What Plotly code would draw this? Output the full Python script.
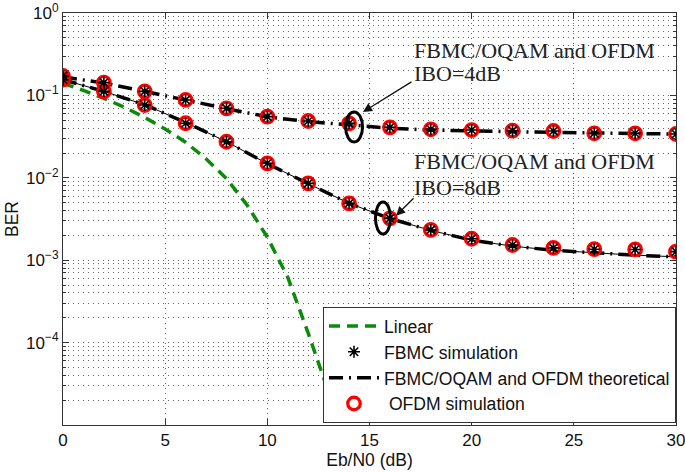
import plotly.graph_objects as go

# ---------------- data ----------------
snr = [0, 2, 4, 6, 8, 10, 12, 14, 16, 18, 20, 22, 24, 26, 28, 30]

linear_x = [0, 1, 2, 3, 4, 5, 6, 7, 8, 9, 10, 11, 12, 13, 14]
linear_ber = [0.14, 0.115, 0.092, 0.072, 0.054, 0.039, 0.027, 0.017, 0.0098,
              0.0047, 0.0019, 0.00062, 0.00013, 0.000025, 0.0000017]

# IBO = 4 dB
sim_ibo4 = [0.172, 0.143, 0.112, 0.088, 0.0697, 0.0552, 0.0489, 0.0458, 0.041,
            0.0388, 0.038, 0.0373, 0.037, 0.0347, 0.0347, 0.034]
theo_ibo4 = [0.168, 0.141, 0.112, 0.087, 0.069, 0.055, 0.048, 0.044, 0.040,
             0.038, 0.037, 0.036, 0.0355, 0.035, 0.0345, 0.034]

# IBO = 8 dB
sim_ibo8 = [0.155, 0.112, 0.0765, 0.0459, 0.0274, 0.0150, 0.00857, 0.0049, 0.00322,
            0.00233, 0.00182, 0.00153, 0.00141, 0.00136, 0.00135, 0.00127]
theo_ibo8 = [0.155, 0.112, 0.077, 0.047, 0.0275, 0.0148, 0.0085, 0.0049, 0.0032,
             0.0023, 0.00175, 0.00148, 0.00132, 0.00122, 0.00115, 0.0011]

y_tickvals = [1, 0.1, 0.01, 0.001, 0.0001]
y_ticktext = ["10<sup>0</sup>", "10<sup>−1</sup>", "10<sup>−2</sup>",
              "10<sup>−3</sup>", "10<sup>−4</sup>"]
x_tickvals = [0, 5, 10, 15, 20, 25, 30]

SANS = "Liberation Sans, Arial, sans-serif"
SERIF = "Liberation Serif, Times New Roman, serif"
GREEN = "#0b8a0b"
THEO_DASH = "14px,6px,2px,6px"
GRID = "#666"
GRID_DASH = "1px,4px"

fig = go.Figure()

# Linear
fig.add_trace(go.Scatter(
    x=linear_x, y=linear_ber, mode="lines", name="Linear",
    line=dict(color=GREEN, width=3.5, dash="11px,7px"), legendrank=1))

# theoretical curves
fig.add_trace(go.Scatter(
    x=snr, y=theo_ibo8, mode="lines", showlegend=False, hoverinfo="skip",
    line=dict(color="black", width=1)))
fig.add_trace(go.Scatter(
    x=snr, y=theo_ibo4, mode="lines", name="FBMC/OQAM and OFDM theoretical",
    line=dict(color="black", width=3.5, dash=THEO_DASH), legendgroup="theo",
    legendrank=3))
fig.add_trace(go.Scatter(
    x=snr, y=theo_ibo8, mode="lines", showlegend=False, legendgroup="theo",
    line=dict(color="black", width=3.5, dash=THEO_DASH)))

# OFDM simulation (red circles)
circ = dict(symbol="circle-open", size=12.5, color="red", line=dict(color="red", width=3.3))
fig.add_trace(go.Scatter(
    x=snr, y=sim_ibo4, mode="markers", name=" OFDM simulation",
    marker=circ, legendgroup="ofdm", legendrank=4))
fig.add_trace(go.Scatter(
    x=snr, y=sim_ibo8, mode="markers", showlegend=False,
    marker=circ, legendgroup="ofdm"))

# FBMC simulation (black stars)
star = dict(symbol="asterisk-open", size=10, color="black", line=dict(color="black", width=1.6))
fig.add_trace(go.Scatter(
    x=snr, y=sim_ibo4, mode="markers", name="FBMC simulation",
    marker=star, legendgroup="fbmc", legendrank=2))
fig.add_trace(go.Scatter(
    x=snr, y=sim_ibo8, mode="markers", showlegend=False,
    marker=star, legendgroup="fbmc"))

# ---------------- annotations ----------------
ann_font = dict(family=SERIF, size=22, color="#222")
labels = [("FBMC/OQAM and OFDM", -0.449), ("IBO=4dB", -0.740),
          ("FBMC/OQAM and OFDM", -1.808), ("IBO=8dB", -2.112)]
for txt, ly in labels:
    fig.add_annotation(x=17.08, y=ly, xref="x", yref="y", xanchor="left", yanchor="middle",
                       text=txt, showarrow=False, font=ann_font)
# arrows
fig.add_annotation(x=14.68, y=-1.201, xref="x", yref="y", ax=50, ay=-31, text="",
                   showarrow=True, arrowhead=2, arrowsize=1.4, arrowwidth=1.3,
                   arrowcolor="#111")
fig.add_annotation(x=16.3, y=-2.46, xref="x", yref="y", ax=19, ay=-19, text="",
                   showarrow=True, arrowhead=2, arrowsize=1.4, arrowwidth=1.3,
                   arrowcolor="#111")
# ellipses (y in axis-domain fractions of the 5-decade range)
fig.add_shape(type="circle", xref="x", yref="y domain", x0=13.83, x1=14.66, y0=0.687, y1=0.760,
              line=dict(color="black", width=3))
fig.add_shape(type="circle", xref="x", yref="y domain", x0=15.29, x1=16.03, y0=0.4636, y1=0.5412,
              line=dict(color="black", width=3))

minor_y = [m * 10.0 ** e for e in range(-5, 0) for m in range(2, 10)]

fig.update_layout(
    width=685, height=472,
    margin=dict(l=63, r=9, t=13, b=47),
    plot_bgcolor="white", paper_bgcolor="white",
    font=dict(family=SANS, size=17, color="#111"),
    legend=dict(x=1, xanchor="right", y=0.005, yanchor="bottom",
                bgcolor="white", bordercolor="#333", borderwidth=1,
                font=dict(family=SANS, size=17.6, color="#111"),
                itemwidth=50, tracegroupgap=0),
    showlegend=True,
)
fig.update_xaxes(
    range=[0, 30], tickmode="array", tickvals=x_tickvals, automargin=False,
    ticklabeloverflow="allow",
    showline=True, linecolor="#333", linewidth=1, mirror="allticks",
    ticks="inside", ticklen=6, tickcolor="#333",
    showgrid=True, gridcolor=GRID, griddash=GRID_DASH, gridwidth=1,
    zeroline=False,
    title=dict(text="Eb/N0 (dB)", font=dict(size=17.5), standoff=2),
)
fig.update_yaxes(
    type="log", range=[-5, 0], tickmode="array", tickvals=y_tickvals, ticktext=y_ticktext,
    automargin=False, ticklabeloverflow="allow",
    showline=True, linecolor="#333", linewidth=1, mirror="allticks",
    ticks="inside", ticklen=6, tickcolor="#333",
    showgrid=True, gridcolor=GRID, griddash=GRID_DASH, gridwidth=1,
    minor=dict(tickmode="array", tickvals=minor_y, ticks="inside", ticklen=3,
               tickcolor="#333", showgrid=True, gridcolor=GRID,
               griddash=GRID_DASH, gridwidth=1),
    zeroline=False,
    title=dict(text="BER", font=dict(size=17.5), standoff=2),
)

fig.write_html("out.html", config={"displayModeBar": False},
               post_script="document.body.style.margin='0';document.body.style.overflow='hidden';")
